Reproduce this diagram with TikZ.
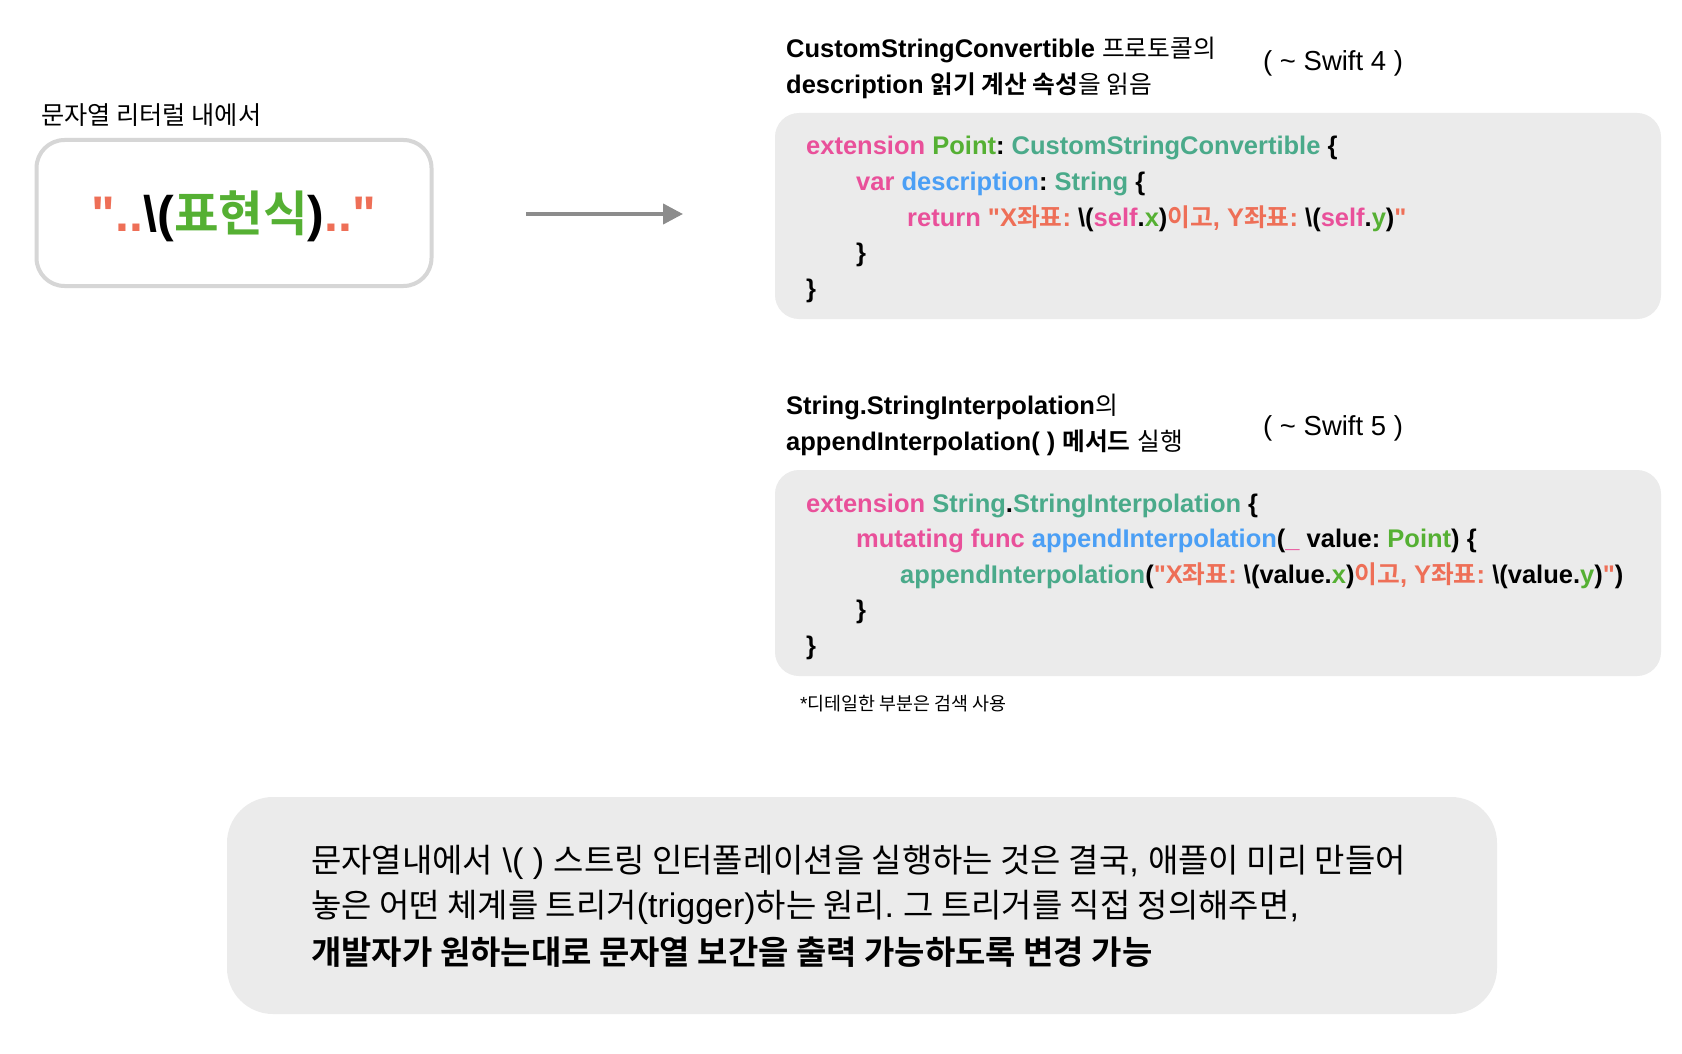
\documentclass[tikz,border=0pt]{standalone}
\usepackage{fontspec}
\setmainfont{Liberation Sans}[Ligatures=TeXOff]
\newfontfamily\krfont{Noto Sans CJK KR}[Scale=0.97,BoldFont={Noto Sans CJK KR Bold}]
\usetikzlibrary{arrows.meta}

% Korean runs are set in the CJK family
\newcommand\kr[1]{{\krfont #1}}

\definecolor{kwpink}{HTML}{E9509A}
\definecolor{tygreen}{HTML}{55B033}
\definecolor{tyteal}{HTML}{4AAA8A}
\definecolor{fnblue}{HTML}{4B9FF5}
\definecolor{strsalmon}{HTML}{EE6F57}
\definecolor{boxgray}{HTML}{EBEBEB}
\definecolor{bordergray}{HTML}{D6D6D6}
\definecolor{arrowgray}{HTML}{8C8C8C}

\newcommand\ckw[1]{{\color{kwpink}#1}}
\newcommand\cty[1]{{\color{tygreen}#1}}
\newcommand\ctl[1]{{\color{tyteal}#1}}
\newcommand\cfn[1]{{\color{fnblue}#1}}
\newcommand\cstr[1]{{\color{strsalmon}#1}}

\begin{document}
\frenchspacing
\begin{tikzpicture}[x=1pt,y=-1pt,
  litbox/.style={draw=bordergray, line width=4pt, rounded corners=28pt,
    minimum width=395pt, minimum height=146pt, inner sep=0pt},
  codebox/.style={fill=boxgray, rounded corners=24pt,
    minimum width=886pt, minimum height=206pt, inner sep=0pt},
  notebox/.style={fill=boxgray, rounded corners=46pt,
    minimum width=1270pt, minimum height=217pt, inner sep=0pt},
  txt/.style={anchor=base west, inner sep=0pt},
  code/.style={txt, font=\fontsize{25.5}{30}\selectfont\bfseries},
  head/.style={txt, font=\fontsize{25.5}{30}\selectfont},
  ver/.style={txt, font=\fontsize{27.5}{30}\selectfont},
  body/.style={txt, font=\fontsize{34}{40}\selectfont},
  flow/.style={draw=arrowgray, line width=4pt, -{Triangle[length=20pt,width=20pt]}}]

\fill[white] (0,0) rectangle (1682,1054);
\path[use as bounding box] (0,0) rectangle (1682,1054);

% string literal with interpolation
\node[txt, font=\fontsize{26}{30}\selectfont] (litlabel) at (41,125) {\kr{문자열 리터럴 내에서}};
\node[litbox] (lit) at (234,213) {};
\node[anchor=base, inner sep=0pt, font=\fontsize{50}{56}\selectfont\bfseries] (littext) at (234,231)
  {\cstr{"..}\textbackslash(\cty{\kr{표현식}})\cstr{.."}};

% arrow
\coordinate (arrS) at (526,214);
\coordinate (arrE) at (683,214);
\draw[flow] (arrS) -- (arrE);

% Swift 4: CustomStringConvertible
\node[head] (h1a) at (786,58) {\textbf{CustomStringConvertible} \kr{프로토콜의}};
\node[head] (h1b) at (786,94) {\textbf{description \kr{읽기 계산 속성}}\kr{을 읽음}};
\node[ver] (v4) at (1263,71) {( \textasciitilde{} Swift 4 )};
\node[codebox] (cb1) at (1218,216) {};
\node[code] (c1l1) at (806,155) {\ckw{extension} \cty{Point}: \ctl{CustomStringConvertible} \{};
\node[code] (c1l2) at (856,190.5) {\ckw{var} \cfn{description}: \ctl{String} \{};
\node[code] (c1l3) at (907,226) {\ckw{return} \cstr{"X\kr{좌표}: }\textbackslash(\ckw{self}.\cty{x})\cstr{\kr{이고}, Y\kr{좌표}: }\textbackslash(\ckw{self}.\cty{y})\cstr{"}};
\node[code] (c1l4) at (856,261.5) {\}};
\node[code] (c1l5) at (806,297) {\}};

% Swift 5: String.StringInterpolation
\node[head] (h2a) at (786,414) {\textbf{String.StringInterpolation}\kr{의}};
\node[head] (h2b) at (786,450) {\textbf{appendInterpolation( ) \kr{메서드}} \kr{실행}};
\node[ver] (v5) at (1263,435) {( \textasciitilde{} Swift 5 )};
\node[codebox] (cb2) at (1218,573) {};
\node[code] (c2l1) at (806,512) {\ckw{extension} \ctl{String}.\ctl{StringInterpolation} \{};
\node[code] (c2l2) at (856,547.5) {\ckw{mutating func} \cfn{appendInterpolation}(\ckw{\_} value: \cty{Point}) \{};
\node[code] (c2l3) at (900,583) {\ctl{appendInterpolation}(\cstr{"X\kr{좌표}: }\textbackslash(value.\cty{x})\cstr{\kr{이고}, Y\kr{좌표}: }\textbackslash(value.\cty{y})\cstr{"})};
\node[code] (c2l4) at (856,618.5) {\}};
\node[code] (c2l5) at (806,654) {\}};

\node[txt, font=\fontsize{19}{22}\selectfont] (foot) at (800,710.5) {*\kr{디테일한 부분은 검색 사용}};

% summary
\node[notebox] (nb) at (862,905.5) {};
\node[body] (n1) at (311,872) {\kr{문자열내에서} \textbackslash( ) \kr{스트링 인터폴레이션을 실행하는 것은 결국}, \kr{애플이 미리 만들어}};
\node[body] (n2) at (311,917) {\kr{놓은 어떤 체계를 트리거}(trigger)\kr{하는 원리}. \kr{그 트리거를 직접 정의해주면},};
\node[body, font=\fontsize{34}{40}\selectfont\bfseries] (n3) at (311,964) {\kr{개발자가 원하는대로 문자열 보간을 출력 가능하도록 변경 가능}};
\end{tikzpicture}
\end{document}
